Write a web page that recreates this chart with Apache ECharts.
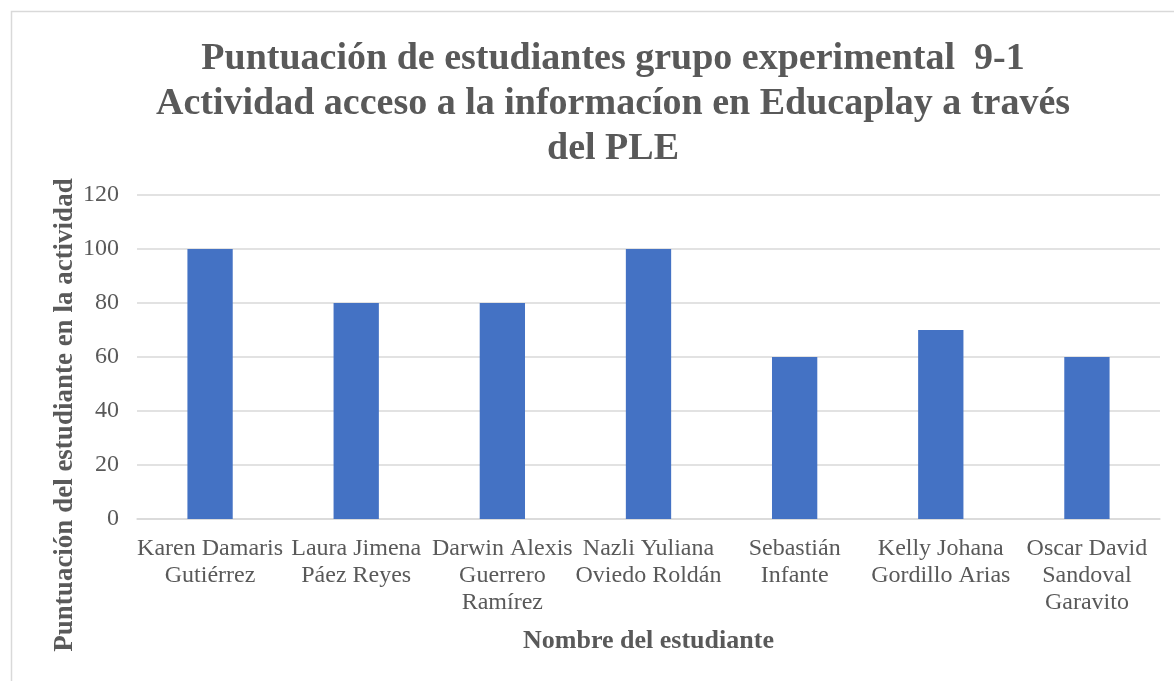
<!DOCTYPE html>
<html><head><meta charset="utf-8">
<script src="https://cdn.jsdelivr.net/npm/echarts@6/dist/echarts.min.js"></script>
<style>html,body{margin:0;padding:0;background:#fff}#c{width:1174px;height:681px}</style>
</head><body><div id="c"></div>
<script>
const categories = [
  "Karen Damaris\nGutiérrez",
  "Laura Jimena\nPáez Reyes",
  "Darwin Alexis\nGuerrero\nRamírez",
  "Nazli Yuliana\nOviedo Roldán",
  "Sebastián\nInfante",
  "Kelly Johana\nGordillo Arias",
  "Oscar David\nSandoval\nGaravito"
];
const scores = [100, 80, 80, 100, 60, 70, 60];
const titleText = "Puntuación de estudiantes grupo experimental  9-1\nActividad acceso a la informacíon en Educaplay a través\ndel PLE";
const yAxisTitle = "Puntuación del estudiante en la actividad";
const xAxisTitle = "Nombre del estudiante";

const font = "'Liberation Serif','Times New Roman',serif";
const grey = "#595959";
const chart = echarts.init(document.getElementById('c'), null, {renderer: 'canvas'});
chart.setOption({
  backgroundColor: '#fff',
  animation: false,
  title: {
    text: titleText,
    left: 608, top: 32, textAlign: 'center',
    textStyle: {fontFamily: font, fontSize: 38, fontWeight: 'bold', color: grey, lineHeight: 45, align: 'center'}
  },
  grid: {left: 137, right: 14, top: 195, bottom: 162},
  xAxis: {
    type: 'category', data: categories,
    axisLine: {show: true, lineStyle: {color: '#d9d9d9', width: 1.5}},
    axisTick: {show: false},
    axisLabel: {fontFamily: font, fontSize: 24, color: grey, lineHeight: 27, margin: 16, interval: 0},
    name: xAxisTitle, nameLocation: 'middle', nameGap: 109,
    nameTextStyle: {fontFamily: font, fontSize: 26, fontWeight: 'bold', color: grey}
  },
  yAxis: {
    type: 'value', min: 0, max: 120, interval: 20,
    axisLine: {show: false}, axisTick: {show: false},
    splitLine: {lineStyle: {color: '#d9d9d9', width: 1.5}},
    axisLabel: {fontFamily: font, fontSize: 24, color: grey, margin: 18}
  },
  series: [{
    type: 'bar', data: scores, barWidth: '31%',
    itemStyle: {color: '#4472c4'}
  }],
  graphic: [
    {type: 'rect', shape: {x: 11.5, y: 11.5, width: 1200, height: 700}, style: {fill: 'none', stroke: '#d9d9d9', lineWidth: 1.5}, silent: true},
    {type: 'text', x: 65, y: 415, rotation: Math.PI / 2,
     style: {text: yAxisTitle, font: "bold 27px 'Liberation Serif','Times New Roman',serif", fill: grey, align: 'center', verticalAlign: 'middle'}}
  ]
});
</script></body></html>
